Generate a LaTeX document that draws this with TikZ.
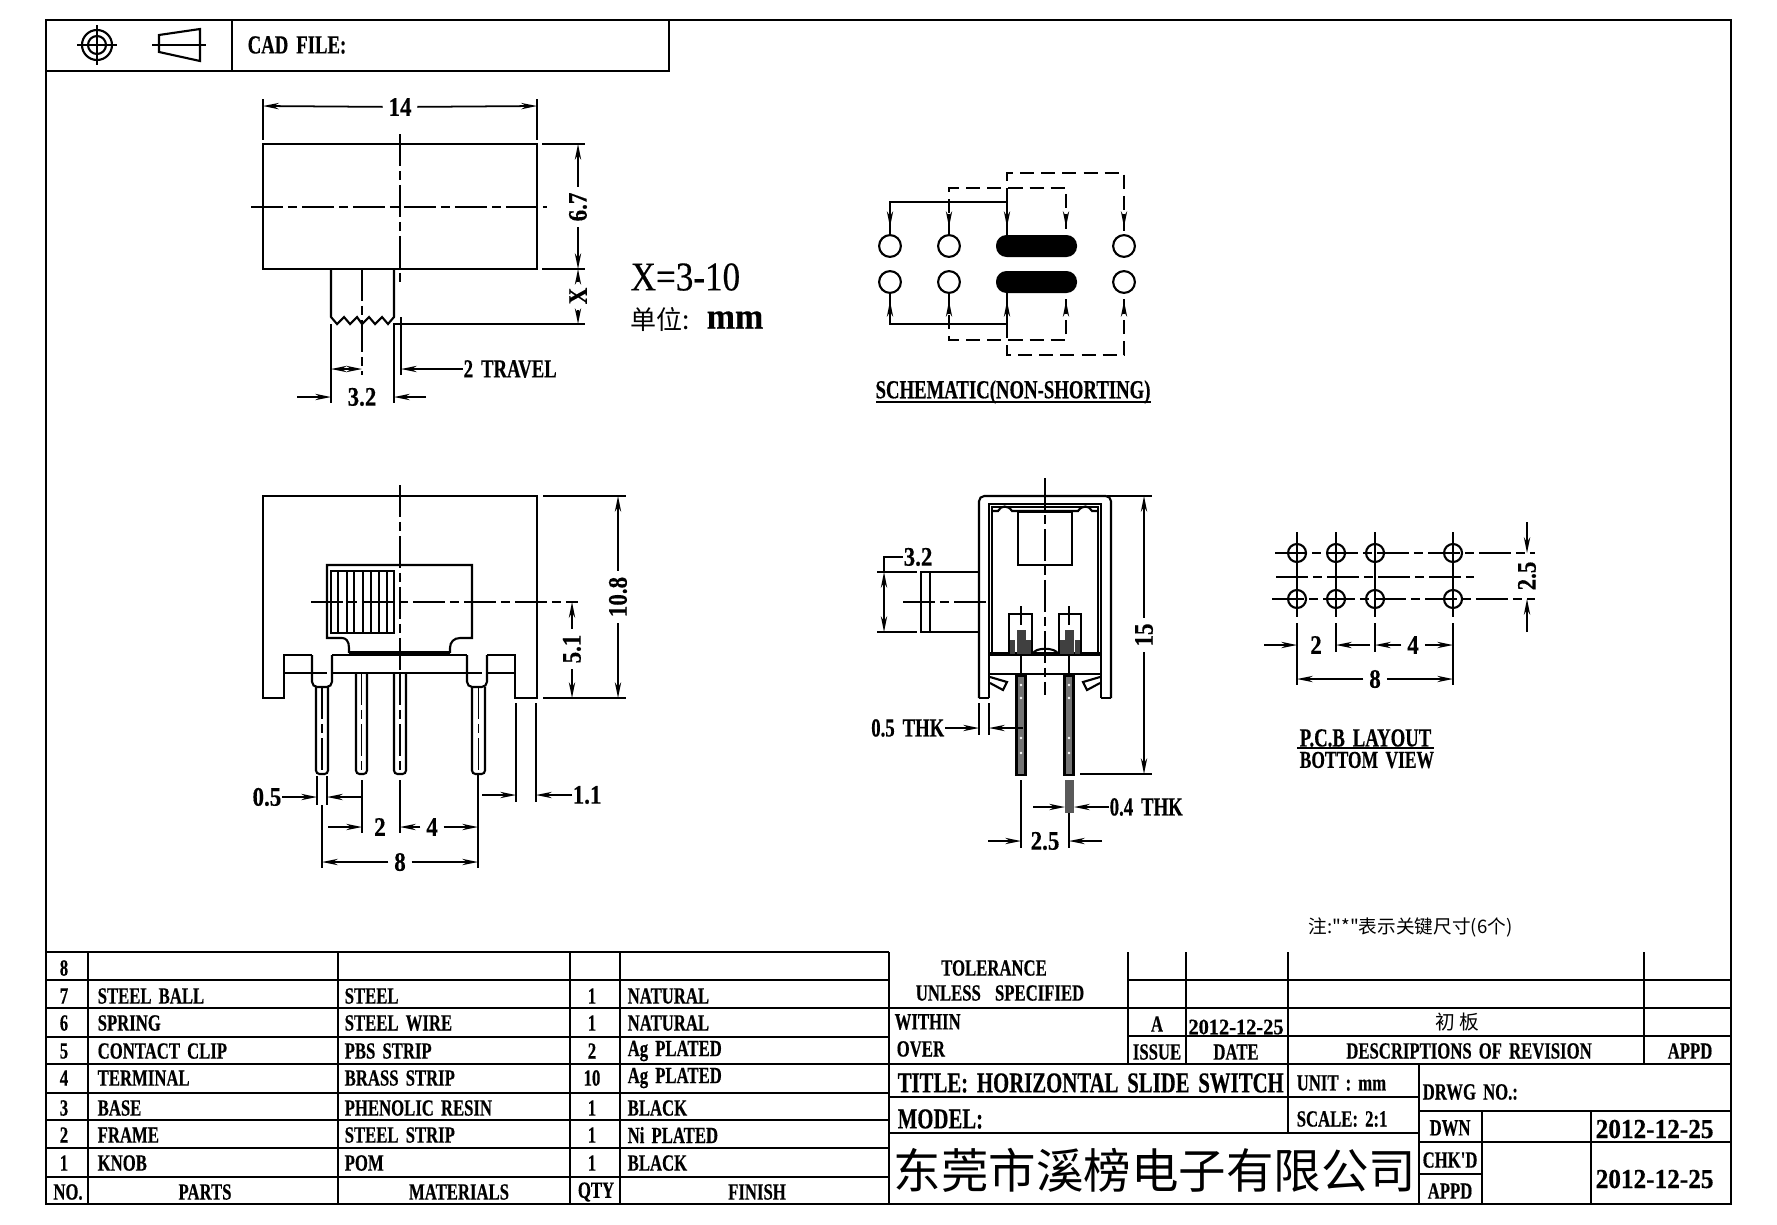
\documentclass[tikz,border=0pt]{standalone}
\usepackage{fontspec}
\setmainfont{Liberation Serif}
\newfontfamily\cadfont{Liberation Serif}[FakeStretch=0.72,WordSpace=1.7,FakeBold=0.4,BoldFont={Liberation Serif Bold}]
\newfontfamily\dimfont{Liberation Serif}[FakeStretch=0.86,WordSpace=1.7,FakeBold=0.4,BoldFont={Liberation Serif Bold}]
\newfontfamily\datefont{Liberation Serif}[FakeStretch=0.92,FakeBold=0.4,BoldFont={Liberation Serif Bold}]
\newfontfamily\cjkfont{Noto Sans CJK SC}
\usetikzlibrary{arrows.meta, positioning}
\tikzset{
  frameline/.style={line width=0.75pt},
  gridline/.style={line width=0.7pt},
  partline/.style={line width=0.6pt},
  thinline/.style={line width=0.5pt},
  centerline/.style={line width=0.5pt, dash pattern=on 9pt off 1.5pt on 2.5pt off 1.5pt},
  hiddenline/.style={line width=0.55pt, dash pattern=on 4pt off 2pt},
  dimline/.style={line width=0.5pt, -{Stealth[length=4.5pt,width=1.8pt]}},
  dimboth/.style={line width=0.5pt, {Stealth[length=4.5pt,width=1.8pt]}-{Stealth[length=4.5pt,width=1.8pt]}},
  cell/.style={font=\cadfont\bfseries\fontsize{6.6}{7}\selectfont, inner sep=0pt},
  cellw/.style={cell, anchor=west},
  dimtext/.style={font=\dimfont\bfseries\fontsize{7.6}{8}\selectfont, inner sep=1.5pt},
  dimword/.style={font=\cadfont\bfseries\fontsize{7.4}{8}\selectfont, inner sep=0pt},
  datetext/.style={font=\datefont\bfseries\fontsize{7.8}{9}\selectfont, inner sep=0pt, anchor=west},
  title/.style={font=\cadfont\bfseries\fontsize{8.2}{9}\selectfont, inner sep=0pt, anchor=west},
  caption/.style={font=\cadfont\bfseries\fontsize{7.4}{9}\selectfont, inner sep=0pt},
  terminal/.style={circle, draw, partline, minimum size=6.2pt, inner sep=0pt},
}
\begin{document}
\begin{tikzpicture}[x=0.01cm, y=-0.01cm]
  \useasboundingbox (0,0) rectangle (1777,1224);

  % sheet
  \draw[frameline] (46,20) rectangle (1731,1204);
  \draw[frameline] (46,71) -- (669,71) -- (669,20);
  \draw[frameline] (232,20) -- (232,71);
  \node[caption, anchor=west] (cad) at (247,45) {CAD FILE:};
  \draw[partline] (97,45) circle (15);
  \draw[partline] (97,45) circle (9);
  \draw[partline] (77,45) -- (117,45);
  \draw[partline] (97,25) -- (97,65);
  \draw[partline] (159,35) -- (200,29) -- (200,61) -- (159,52) -- cycle;
  \draw[partline] (152,45) -- (206,45);

  % top view
  \draw[partline] (263,144) rectangle (537,269);
  \draw[centerline] (400,134) -- (400,282);
  \draw[centerline] (251,207) -- (547,207);
  \draw[thinline] (263,99) -- (263,140);
  \draw[thinline] (537,99) -- (537,140);
  \node[dimtext] (d14) at (400,107) {14};
  \draw[dimline] (d14) -- (263,106);
  \draw[dimline] (d14) -- (537,106);
  \draw[thinline] (542,144) -- (585,144);
  \draw[thinline] (542,269) -- (585,269);
  \draw[thinline] (393,324) -- (585,324);
  \node[dimtext, rotate=90] (d67) at (578,207) {6.7};
  \draw[dimline] (d67) -- (578,144);
  \draw[dimline] (d67) -- (578,269);
  \node[dimtext, rotate=90] (dx) at (578,296) {X};
  \draw[dimline] (dx) -- (578,269);
  \draw[dimline] (dx) -- (578,324);
  \node[inner sep=0pt, anchor=west, font=\dimfont\fontsize{11.6}{13}\selectfont] (xrange) at (630,277) {X=3-10};
  \node[inner sep=0pt, anchor=west, font=\cjkfont\fontsize{7.4}{8}\selectfont] (unitcn) at (630,319) {单位:};
  \node[inner sep=0pt, anchor=west, font=\datefont\bfseries\fontsize{10.5}{11}\selectfont] (unitmm) at (706,320) {mm};
  \draw[partline] (331,269) -- (331,317) -- (337,324) -- (344,317) -- (350,324) -- (357,317)
    -- (362,324) -- (369,317) -- (375,324) -- (382,317) -- (388,324) -- (394,317) -- (394,269);
  \draw[centerline] (362,269) -- (362,375);
  \draw[thinline] (331,324) -- (331,403);
  \draw[thinline] (394,324) -- (394,403);
  \draw[thinline] (401,317) -- (401,375);
  \draw[dimboth] (331,369) -- (362,369);
  \node[dimword, anchor=west] (dtravel) at (463,369) {2 TRAVEL};
  \draw[dimline] (dtravel) -- (401,369);
  \node[dimtext] (d32) at (362,397) {3.2};
  \draw[dimline] (297,397) -- (331,397);
  \draw[dimline] (426,397) -- (394,397);

  % schematic
  \node[terminal] (ta1) at (890,246) {};
  \node[terminal] (ta2) at (949,246) {};
  \node[terminal] (ta3) at (1124,246) {};
  \node[terminal] (tb1) at (890,282) {};
  \node[terminal] (tb2) at (949,282) {};
  \node[terminal] (tb3) at (1124,282) {};
  \fill[rounded corners=3pt] (996,235) rectangle (1077,257);
  \fill[rounded corners=3pt] (996,271) rectangle (1077,293);
  \draw[partline] (ta1) -- (890,202) -- (1007,202) -- (1007,235);
  \draw[partline] (tb1) -- (890,324) -- (1007,324) -- (1007,293);
  \draw[hiddenline] (ta2) -- (949,188) -- (1066,188) -- (1066,235);
  \draw[hiddenline] (tb2) -- (949,340) -- (1066,340) -- (1066,293);
  \draw[hiddenline] (1007,202) -- (1007,173) -- (1124,173) -- (ta3);
  \draw[hiddenline] (1007,324) -- (1007,355) -- (1124,355) -- (tb3);
  \foreach \xx in {890,949,1007,1066,1124} {
    \draw[dimline] (\xx,214) -- (\xx,227);
    \draw[dimline] (\xx,314) -- (\xx,301);
  }
  \node[caption] (schem) at (1013,392) {SCHEMATIC(NON-SHORTING)};
  \draw[thinline] (876,402) -- (1151,402);

  % front view
  \draw[partline] (312,655) -- (284,655) -- (284,698) -- (263,698) -- (263,496) -- (537,496)
    -- (537,698) -- (515,698) -- (515,655) -- (487,655);
  \draw[partline, rounded corners=1.5pt] (312,655) -- (312,687) -- (332,687) -- (332,655);
  \draw[partline, rounded corners=1.5pt] (467,655) -- (467,687) -- (487,687) -- (487,655);
  \draw[partline] (332,655) -- (467,655);
  \draw[partline] (284,673) -- (312,673);
  \draw[partline] (332,673) -- (467,673);
  \draw[partline] (487,673) -- (515,673);
  \draw[hiddenline] (313,673) -- (331,673);
  \draw[hiddenline] (468,673) -- (486,673);
  \draw[partline] (349,653) -- (349,648) .. controls (349,641) and (346,638) .. (342,638)
    -- (327,638) -- (327,565) -- (472,565) -- (472,638) -- (460,638)
    .. controls (454,638) and (450,642) .. (450,648) -- (450,653);
  \draw[line width=1pt] (349,653) -- (450,653);
  \draw[partline] (331,571) rectangle (394,633);
  \foreach \xx in {338,347,354,363,371,379,387} {
    \draw[thinline] (\xx,571) -- (\xx,633);
  }
  \draw[centerline] (400,485) -- (400,673);
  \draw[centerline] (311,602) -- (578,602);
  \foreach \xa/\xb/\ya in {316/328/687, 356/367/673, 394/406/673, 472/485/687} {
    \draw[partline, rounded corners=1pt] (\xa,\ya) -- (\xa,774) -- (\xb,774) -- (\xb,\ya);
    \draw[centerline] ({(\xa+\xb)/2},\ya) -- ({(\xa+\xb)/2},772);
  }
  \draw[thinline] (543,496) -- (626,496);
  \draw[thinline] (543,698) -- (626,698);
  \node[dimtext, rotate=90] (d108) at (618,597) {10.8};
  \draw[dimline] (d108) -- (618,496);
  \draw[dimline] (d108) -- (618,698);
  \node[dimtext, rotate=90] (d51) at (572,649) {5.1};
  \draw[dimline] (d51) -- (572,602);
  \draw[dimline] (d51) -- (572,698);
  \draw[thinline] (317,776) -- (317,805);
  \draw[thinline] (327,776) -- (327,805);
  \draw[thinline] (322,805) -- (322,868);
  \draw[thinline] (362,780) -- (362,833);
  \draw[thinline] (400,780) -- (400,833);
  \draw[thinline] (478,775) -- (478,868);
  \draw[thinline] (516,703) -- (516,802);
  \draw[thinline] (536,703) -- (536,802);
  \node[dimtext, inner sep=0pt, anchor=east] (d05) at (282,797) {0.5};
  \draw[dimline] (d05) -- (317,797);
  \draw[dimline] (362,797) -- (327,797);
  \node[dimtext] (d2) at (380,827) {2};
  \draw[dimline] (328,827) -- (362,827);
  \node[dimtext] (d4) at (432,827) {4};
  \draw[dimline] (d4) -- (400,827);
  \draw[dimline] (d4) -- (478,827);
  \node[dimtext] (d8) at (400,862) {8};
  \draw[dimline] (d8) -- (322,862);
  \draw[dimline] (d8) -- (478,862);
  \node[dimtext, inner sep=0pt, anchor=west] (d11) at (572,795) {1.1};
  \draw[dimline] (d11) -- (536,795);
  \draw[dimline] (482,795) -- (516,795);

  % side view
  \draw[partline, rounded corners=1.5pt] (979,698) -- (979,496) -- (1111,496) -- (1111,698);
  \draw[partline] (979,698) -- (989,698);
  \draw[partline] (1101,698) -- (1111,698);
  \draw[partline] (989,698) -- (989,504) -- (1101,504) -- (1101,698);
  \draw[partline] (992,654) -- (992,507) -- (1098,507) -- (1098,654);
  \draw[partline] (992,511) -- (998,511) .. controls (1001,505) and (1008,505) .. (1012,511) -- (1078,511)
    .. controls (1082,505) and (1089,505) .. (1092,511) -- (1098,511);
  \draw[partline] (1018,512) rectangle (1072,565);
  \draw[partline] (989,674) -- (1101,674);
  \draw[line width=0.9pt] (989,654) -- (1101,654);
  \draw[partline] (990,677) -- (1007,682) -- (1003,690) -- (990,683);
  \draw[partline] (1100,677) -- (1083,682) -- (1087,690) -- (1100,683);
  \draw[partline] (1033,654) .. controls (1034,647) and (1056,647) .. (1058,654);
  \draw[centerline] (1045,478) -- (1045,695);
  \draw[partline] (979,572) -- (921,572) -- (921,632) -- (979,632);
  \draw[partline] (930,572) -- (930,632);
  \draw[centerline] (903,602) -- (989,602);
  \foreach \xa/\xb/\xc in {1009/1032/1021, 1059/1081/1069} {
    \draw[partline] (\xa,654) -- (\xa,614) -- (\xb,614) -- (\xb,654);
    \draw[thinline] (\xc,606) -- (\xc,625);
    \fill[black!75] (\xc-4.5,630) rectangle (\xc+4.5,654);
    \fill[black!75] (\xa+1,640) rectangle (\xa+6,654);
    \fill[black!75] (\xb-6,640) rectangle (\xb-1,654);
    \draw[partline, fill=black!55] (\xc-4.5,676) rectangle (\xc+4.5,775);
    \foreach \yy in {685,698,738,753} {
      \fill[white] (\xc,\yy) circle (1.3);
    }
  }
  \draw[thinline] (1021,654) -- (1021,676);
  \draw[thinline] (1069,654) -- (1069,676);
  \draw[thinline] (877,572) -- (917,572);
  \draw[thinline] (877,632) -- (917,632);
  \draw[dimboth] (884,572) -- (884,632);
  \node[dimtext, inner sep=0pt, anchor=west] (d32b) at (903,557) {3.2};
  \draw[thinline] (d32b) -- (884,557) -- (884,572);
  \draw[thinline] (979,703) -- (979,735);
  \draw[thinline] (989,703) -- (989,735);
  \node[dimword, anchor=east] (dthk5) at (945,728) {0.5 THK};
  \draw[dimline] (dthk5) -- (979,728);
  \draw[dimline] (1023,728) -- (989,728);
  \draw[thinline] (1107,496) -- (1152,496);
  \draw[thinline] (1080,774) -- (1152,774);
  \node[dimtext, rotate=90] (d15) at (1144,635) {15};
  \draw[dimline] (d15) -- (1144,496);
  \draw[dimline] (d15) -- (1144,774);
  \fill[black!65] (1065,780) rectangle (1074,813);
  \node[dimword, anchor=west] (dthk4) at (1109,807) {0.4 THK};
  \draw[dimline] (1033,807) -- (1065,807);
  \draw[dimline] (dthk4) -- (1074,807);
  \draw[thinline] (1021,780) -- (1021,848);
  \draw[thinline] (1069,813) -- (1069,848);
  \node[dimtext] (d25) at (1045,841) {2.5};
  \draw[dimline] (988,841) -- (1021,841);
  \draw[dimline] (1102,841) -- (1069,841);

  % pcb layout
  \foreach \xx in {1297,1336,1375,1453} {
    \foreach \yy in {553,599} {
      \draw[partline] (\xx,\yy) circle (9);
    }
    \draw[thinline] (\xx,532) -- (\xx,617);
  }
  \draw[centerline] (1275,553) -- (1535,553);
  \draw[centerline] (1272,599) -- (1535,599);
  \draw[centerline] (1276,577) -- (1474,577);
  \node[dimtext, rotate=90] (d25b) at (1527,576) {2.5};
  \draw[dimline] (1527,522) -- (1527,553);
  \draw[dimline] (1527,632) -- (1527,599);
  \draw[thinline] (1297,623) -- (1297,685);
  \draw[thinline] (1336,623) -- (1336,652);
  \draw[thinline] (1375,623) -- (1375,652);
  \draw[thinline] (1453,623) -- (1453,685);
  \draw[dimline] (1264,645) -- (1297,645);
  \node[dimtext] (d2b) at (1316,645) {2};
  \draw[dimline] (1370,645) -- (1336,645);
  \node[dimtext] (d4b) at (1413,645) {4};
  \draw[dimline] (d4b) -- (1375,645);
  \draw[dimline] (d4b) -- (1453,645);
  \node[dimtext] (d8b) at (1375,679) {8};
  \draw[dimline] (d8b) -- (1297,679);
  \draw[dimline] (d8b) -- (1453,679);
  \node[caption, anchor=west] (pcb) at (1299,738) {P.C.B LAYOUT};
  \draw[thinline] (1297,748) -- (1434,748);
  \node[caption, anchor=west, font=\cadfont\bfseries\fontsize{6.9}{9}\selectfont] (bottom) at (1299,760) {BOTTOM VIEW};
  \node[inner sep=0pt, anchor=west, font=\cjkfont\fontsize{5.3}{6}\selectfont] (note) at (1308,927) {注:"*"表示关键尺寸(6个)};

  % parts table
  \foreach \yy in {952,980,1008,1037,1064,1093,1120,1148,1177} {
    \draw[gridline] (46,\yy) -- (889,\yy);
  }
  \foreach \xx in {88,338,570,620,889} {
    \draw[gridline] (\xx,952) -- (\xx,1204);
  }
  \foreach \no/\part/\mat/\qty/\fin/\yy in {
    7/STEEL BALL/STEEL/1/NATURAL/996,
    6/SPRING/STEEL WIRE/1/NATURAL/1023,
    5/CONTACT CLIP/PBS STRIP/2/Ag PLATED/1051,
    4/TERMINAL/BRASS STRIP/10/Ag PLATED/1078,
    3/BASE/PHENOLIC RESIN/1/BLACK/1108,
    2/FRAME/STEEL STRIP/1/Ni PLATED/1135,
    1/KNOB/POM/1/BLACK/1163} {
    \node[cell] (no\no) at (64,\yy) {\no};
    \node[cellw] (part\no) at (97,\yy) {\part};
    \node[cellw] (mat\no) at (344,\yy) {\mat};
    \node[cell] (qty\no) at (592,\yy) {\qty};
    \node[cellw] (fin\no) at (627,\yy) {\fin};
  }
  \node[cell] (no8) at (64,968) {8};
  \node[cell] (headno) at (68,1192) {NO.};
  \node[cell] (headpart) at (205,1192) {PARTS};
  \node[cell] (headmat) at (459,1192) {MATERIALS};
  \node[cell] (headqty) at (596,1192) {QTY};
  \node[cell] (headfin) at (757,1192) {FINISH};

  % revision and title block
  \foreach \yy in {980,1036} {
    \draw[gridline] (1128,\yy) -- (1731,\yy);
  }
  \foreach \yy in {1008,1064} {
    \draw[gridline] (889,\yy) -- (1731,\yy);
  }
  \foreach \yy in {1097,1133} {
    \draw[gridline] (889,\yy) -- (1419,\yy);
  }
  \foreach \yy in {1111,1142} {
    \draw[gridline] (1419,\yy) -- (1731,\yy);
  }
  \draw[gridline] (1419,1174) -- (1482,1174);
  \foreach \xx in {1128,1186,1644} {
    \draw[gridline] (\xx,952) -- (\xx,1064);
  }
  \draw[gridline] (1288,952) -- (1288,1133);
  \draw[gridline] (1419,1064) -- (1419,1204);
  \draw[gridline] (1482,1111) -- (1482,1204);
  \draw[gridline] (1591,1111) -- (1591,1204);
  \node[cell] (tol) at (994,968) {TOLERANCE};
  \node[cell] (unless) at (1000,993) {UNLESS\ \ SPECIFIED};
  \node[cellw] (within) at (894,1022) {WITHIN};
  \node[cellw] (over) at (896,1049) {OVER};
  \node[cell] (issuea) at (1157,1024) {A};
  \node[datetext, anchor=center, font=\datefont\bfseries\fontsize{6.3}{7}\selectfont] (issuedate) at (1236,1027) {2012-12-25};
  \node[inner sep=0pt, font=\cjkfont\fontsize{5.6}{6}\selectfont] (first) at (1457,1022) {初 板};
  \node[cell] (issue) at (1157,1052) {ISSUE};
  \node[cell] (date) at (1236,1052) {DATE};
  \node[cell] (descr) at (1469,1051) {DESCRIPTIONS OF REVISION};
  \node[cell] (appda) at (1690,1051) {APPD};
  \node[title] (titletext) at (897,1083) {TITLE: HORIZONTAL SLIDE SWITCH};
  \node[cellw] (unit) at (1296,1083) {UNIT : mm};
  \node[cellw] (drwg) at (1422,1092) {DRWG NO.:};
  \node[title] (model) at (897,1119) {MODEL:};
  \node[cellw] (scale) at (1296,1119) {SCALE: 2:1};
  \node[inner sep=0pt, anchor=west, font=\cjkfont\fontsize{13.5}{15}\selectfont] (company) at (893,1170) {东莞市溪榜电子有限公司};
  \node[cell] (dwn) at (1450,1128) {DWN};
  \node[datetext] (dwndate) at (1595,1129) {2012-12-25};
  \node[cell] (chkd) at (1450,1160) {CHK'D};
  \node[cell] (appdb) at (1450,1191) {APPD};
  \node[datetext] (chkdate) at (1595,1179) {2012-12-25};
\end{tikzpicture}
\end{document}
